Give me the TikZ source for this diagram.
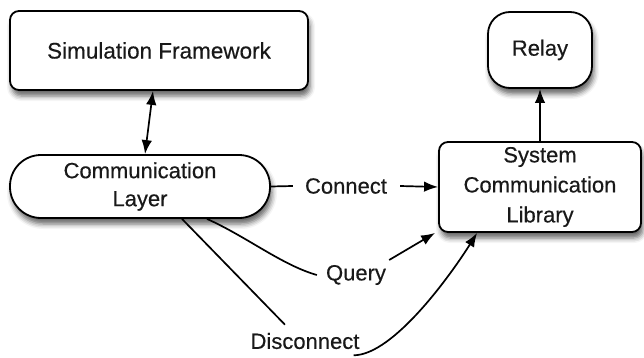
\documentclass[tikz,border=0pt]{standalone}
\usepackage{fontspec}
\setmainfont{Liberation Sans}[FakeBold=0.4]
\usetikzlibrary{arrows.meta,shadows.blur,calc}
\begin{document}
\begin{tikzpicture}[x=1pt,y=-1pt,
  box/.style={draw=black, line width=1.8pt, fill=white, rounded corners=9pt,
    blur shadow={shadow xshift=2pt, shadow yshift=-6pt, shadow blur radius=5pt, shadow opacity=60}},
  lbl/.style={font=\fontsize{22}{30}\selectfont, text=black!90, inner sep=0pt},
  link/.style={line width=1.7pt},
  tip/.tip={Latex[length=14pt,width=10.5pt]},
  arr/.style={link, -tip},
]
\useasboundingbox (0,0) rectangle (644,358);

% boxes
\node[box, minimum width=298pt, minimum height=79pt, text=black!90,
      font=\fontsize{22.5}{30}\selectfont] (sim) at (159,50.5) {Simulation Framework};
\node[box, rounded corners=22pt, minimum width=104pt, minimum height=76pt, text=black!90,
      font=\fontsize{22}{30}\selectfont] (relay) at (540,50) {Relay};
\node[box, rounded corners=31pt, minimum width=260pt, minimum height=63pt, align=center, text=black!90,
      font=\fontsize{22}{28}\selectfont] (comm) at (140,186.5) {Communication\\Layer};
\node[box, minimum width=202pt, minimum height=90pt, align=center, text=black!90,
      font=\fontsize{22}{30}\selectfont] (syslib) at (540,187) {System\\Communication\\Library};

% edge labels
\node[lbl] (conn) at (346,186) {Connect};
\node[lbl] (query) at (356,275) {Query};
\node[lbl] (disc) at (305,341) {Disconnect};

% connectors
\draw[link, tip-tip] ([xshift=-6pt]sim.south) -- ([xshift=5pt]comm.north);
\draw[arr] (syslib.north) -- (relay.south);

\draw[link] (comm.east) -- ([xshift=-12pt]conn.west);
\draw[arr] ([xshift=13pt]conn.east) -- (syslib.west);

\draw[link] ([xshift=67pt]comm.south) .. controls +(40,18) and +(-35,-10) .. ([xshift=-9pt]query.west);
\draw[arr] ([shift={(3,-15)}]query.east) -- ([xshift=-3pt]syslib.south west);

\draw[link] ([xshift=42pt]comm.south) -- ([shift={(-20,-8)}]disc.north);
\draw[arr] ([shift={(-6,6)}]disc.south east) .. controls +(40,0) and +(-25,40) .. ([xshift=39pt]syslib.south west);
\end{tikzpicture}
\end{document}
